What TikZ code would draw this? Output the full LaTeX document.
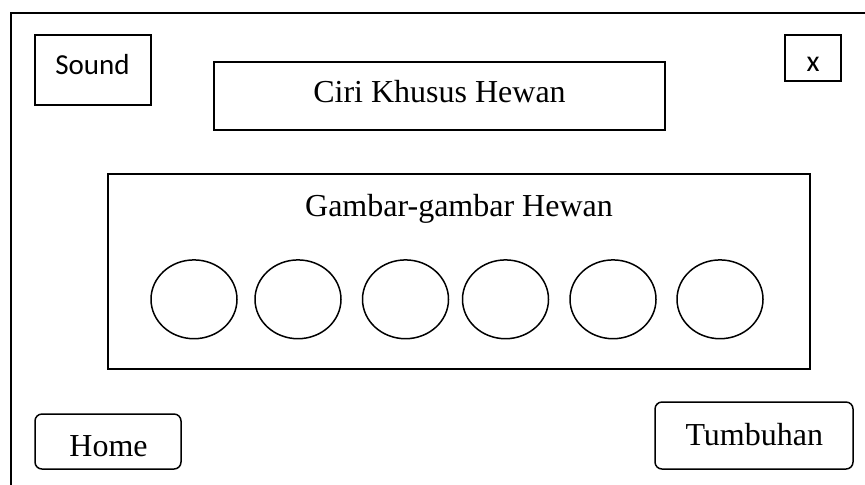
\documentclass[tikz,border=0pt]{standalone}
\usepackage{fontspec}
\setmainfont{Liberation Serif}
\newfontfamily\calibri{Carlito}

\tikzset{
  box/.style={draw=black, line width=0.75pt},
  button/.style={box, rounded corners=3.5pt},
  serif/.style={font=\fontsize{16}{19}\selectfont, anchor=base, inner sep=0pt},
  sans/.style={font=\calibri\fontsize{14.5}{17}\selectfont, anchor=base, inner sep=0pt}
}

\begin{document}
\begin{tikzpicture}[x=0.5pt, y=-0.5pt]
\useasboundingbox (0,0) rectangle (865,484);

% window frame
\draw[box] (11,13) rectangle (880,500);

% top bar
\draw[box] (35,35) rectangle (151,105);
\node[sans] (sound) at (92.5,74) {Sound};
\draw[box] (214,62) rectangle (665,130);
\node[serif] (title) at (439.5,102) {Ciri Khusus Hewan};
\draw[box] (785,35) rectangle (841,81);
\node[sans, font=\calibri\fontsize{15}{18}\selectfont] (close) at (813,71) {x};

% animal pictures
\draw[box] (108,174) rectangle (810,369);
\node[serif] (gallery) at (459,216) {Gambar-gambar Hewan};
\foreach \cx in {194,298,405.5,505.5,613,720}
  \draw[box] (\cx,299.3) ellipse [x radius=21.5pt, y radius=19.7pt];

% navigation
\draw[button] (35,414) rectangle (181,469);
\node[serif] (home) at (108.5,456) {Home};
\draw[button] (655,402) rectangle (853,469);
\node[serif] (plants) at (754.3,445) {Tumbuhan};
\end{tikzpicture}
\end{document}
